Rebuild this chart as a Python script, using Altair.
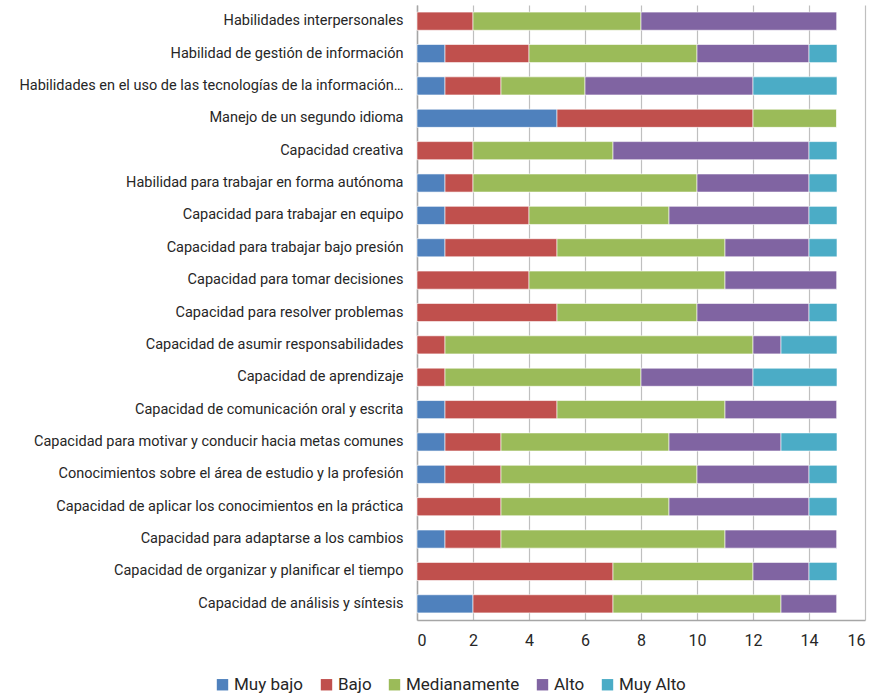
import altair as alt
import pandas as pd

categories = [
    "Habilidades interpersonales",
    "Habilidad de gestión de información",
    "Habilidades en el uso de las tecnologías de la información…",
    "Manejo de un segundo idioma",
    "Capacidad creativa",
    "Habilidad para trabajar en forma autónoma",
    "Capacidad para trabajar en equipo",
    "Capacidad para trabajar bajo presión",
    "Capacidad para tomar decisiones",
    "Capacidad para resolver problemas",
    "Capacidad de asumir responsabilidades",
    "Capacidad de aprendizaje",
    "Capacidad de comunicación oral y escrita",
    "Capacidad para motivar y conducir hacia metas comunes",
    "Conocimientos sobre el área de estudio y la profesión",
    "Capacidad de aplicar los conocimientos en la práctica",
    "Capacidad para adaptarse a los cambios",
    "Capacidad de organizar y planificar el tiempo",
    "Capacidad de análisis y síntesis",
]

series_names = ["Muy bajo", "Bajo", "Medianamente", "Alto", "Muy Alto"]
muy_bajo     = [0, 1, 1, 5, 0, 1, 1, 1, 0, 0, 0, 0, 1, 1, 1, 0, 1, 0, 2]
bajo         = [2, 3, 2, 7, 2, 1, 3, 4, 4, 5, 1, 1, 4, 2, 2, 3, 2, 7, 5]
medianamente = [6, 6, 3, 3, 5, 8, 5, 6, 7, 5, 11, 7, 6, 6, 7, 6, 8, 5, 6]
alto         = [7, 4, 6, 0, 7, 4, 5, 3, 4, 4, 1, 4, 4, 4, 4, 5, 4, 2, 2]
muy_alto     = [0, 1, 3, 0, 1, 1, 1, 1, 0, 1, 2, 3, 0, 2, 1, 1, 0, 1, 0]
colors = ["#4F81BD", "#C0504D", "#9BBB59", "#8064A2", "#4BACC6"]

rows = []
for s_i, (name, vals) in enumerate(zip(series_names, [muy_bajo, bajo, medianamente, alto, muy_alto])):
    for cat, v in zip(categories, vals):
        rows.append({"Categoria": cat, "Serie": name, "Valor": v, "orden": s_i})
df = pd.DataFrame(rows)

FONT = "Roboto"

chart = alt.Chart(df).mark_bar(stroke="white", strokeWidth=0.6).encode(
    y=alt.Y("Categoria:N", sort=categories, title=None,
            scale=alt.Scale(paddingInner=0.44, paddingOuter=0.22),
            axis=alt.Axis(labelFontSize=14.5, labelColor="#262626", labelFont=FONT,
                          ticks=False, labelPadding=14, labelLimit=500,
                          domainColor="#a6a6a6", domainWidth=1.5)),
    x=alt.X("Valor:Q", stack="zero", title=None,
            scale=alt.Scale(domain=[0, 16], nice=False),
            axis=alt.Axis(values=list(range(0, 17, 2)), labelFontSize=16, labelFont=FONT,
                          labelColor="#262626", ticks=False, labelPadding=12,
                          grid=True, gridColor="#bfbfbf", gridWidth=1.2,
                          domainColor="#a6a6a6", domainWidth=1.5)),
    color=alt.Color("Serie:N", sort=series_names,
                    scale=alt.Scale(domain=series_names, range=colors),
                    legend=alt.Legend(title=None, orient="none", direction="horizontal",
                                      legendX=-203, legendY=671, symbolType="square",
                                      symbolSize=130, symbolStrokeWidth=0,
                                      labelFontSize=17, labelFont=FONT, labelColor="#262626",
                                      columnPadding=14, labelOffset=3)),
    order=alt.Order("orden:Q", sort="ascending"),
).properties(
    width=448, height=615,
    autosize=alt.AutoSizeParams(type="none"),
    padding={"left": 417, "top": 5, "right": 15, "bottom": 78},
).configure_view(stroke=None)

chart.save("out.html", embed_options={"renderer": "svg", "actions": False})
